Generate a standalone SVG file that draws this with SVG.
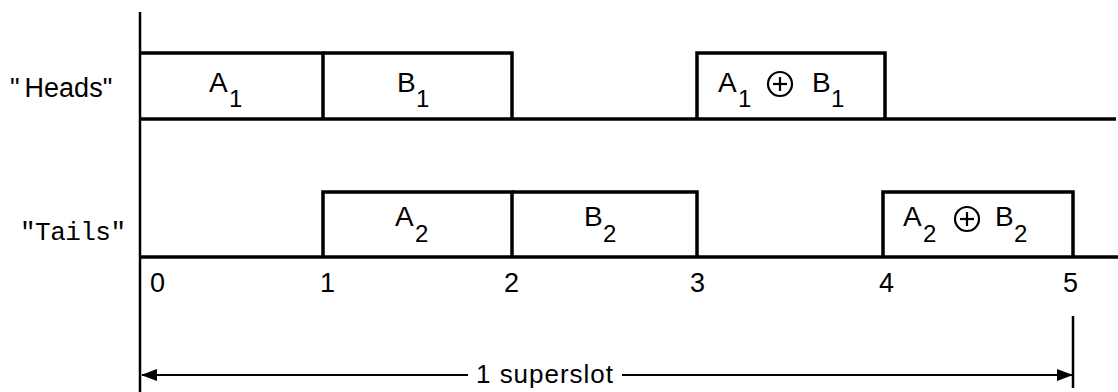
<svg xmlns="http://www.w3.org/2000/svg" width="1118" height="392" viewBox="0 0 1118 392">
<style>
.ln{stroke:#000;stroke-width:3.5;fill:none;stroke-linejoin:miter}
.ax{stroke:#000;stroke-width:2.5;fill:none}
.ar{stroke:#000;stroke-width:2;fill:none}
.t{font-family:"Liberation Sans",Arial,sans-serif;fill:#000}
.lab{font-size:28px}
.sub{font-size:24px}
.num{font-size:27px}
.mono{font-family:"Liberation Mono","Courier New",monospace;fill:#000;font-size:26px}
.xor{stroke:#000;stroke-width:2.2;fill:none}
</style>
<defs>
<marker id="ah" markerWidth="16" markerHeight="12" refX="15" refY="6" orient="auto" markerUnits="userSpaceOnUse">
<path d="M0,0 L16,6 L0,12 Z" fill="#000"/>
</marker>
</defs>
<g id="connectors">
<line class="ax" x1="140" y1="12" x2="140" y2="392"/>
<line class="ln" x1="140" y1="119" x2="1116" y2="119"/>
<line class="ln" x1="140" y1="257" x2="1118" y2="257"/>
<line class="ax" x1="1073" y1="316" x2="1073" y2="388"/>
<line class="ar" x1="468" y1="375" x2="142" y2="375" marker-end="url(#ah)"/>
<line class="ar" x1="622" y1="375" x2="1072" y2="375" marker-end="url(#ah)"/>
</g>
<g id="heads-label"><text class="t" x="10" y="97" font-size="27">"<tspan dx="5">Heads"</tspan></text></g>
<g id="tails-label"><text class="mono" x="20" y="240" textLength="106">"Tails"</text></g>
<g id="A1">
<polyline class="ln" points="140,53 323,53 323,119"/>
<text class="t lab" x="209" y="92">A</text><text class="t sub" x="229" y="107">1</text>
</g>
<g id="B1">
<polyline class="ln" points="323,53 512,53 512,119"/>
<text class="t lab" x="397" y="92">B</text><text class="t sub" x="416" y="107">1</text>
</g>
<g id="A1xB1">
<polyline class="ln" points="697,119 697,53 885,53 885,119"/>
<text class="t lab" x="718" y="92">A</text><text class="t sub" x="738" y="107">1</text>
<circle class="xor" cx="780" cy="84" r="12"/>
<line class="xor" x1="773" y1="84" x2="787" y2="84"/><line class="xor" x1="780" y1="77" x2="780" y2="91"/>
<text class="t lab" x="812" y="92">B</text><text class="t sub" x="831" y="107">1</text>
</g>
<g id="A2">
<polyline class="ln" points="323,257 323,192 512,192 512,257"/>
<text class="t lab" x="395" y="226">A</text><text class="t sub" x="415" y="242">2</text>
</g>
<g id="B2">
<polyline class="ln" points="512,192 697,192 697,257"/>
<text class="t lab" x="584" y="226">B</text><text class="t sub" x="603" y="242">2</text>
</g>
<g id="A2xB2">
<polyline class="ln" points="883,257 883,192 1073,192 1073,257"/>
<text class="t lab" x="903" y="226">A</text><text class="t sub" x="923" y="242">2</text>
<circle class="xor" cx="967" cy="219" r="12"/>
<line class="xor" x1="960" y1="219" x2="974" y2="219"/><line class="xor" x1="967" y1="212" x2="967" y2="226"/>
<text class="t lab" x="995" y="226">B</text><text class="t sub" x="1014" y="242">2</text>
</g>
<g id="ticks">
<text class="t num" x="150" y="292">0</text>
<text class="t num" x="320" y="292">1</text>
<text class="t num" x="504" y="292">2</text>
<text class="t num" x="690" y="292">3</text>
<text class="t num" x="879" y="292">4</text>
<text class="t num" x="1063" y="292">5</text>
</g>
<g id="superslot"><text class="t" x="476" y="383" font-size="26" textLength="137">1 superslot</text></g>
</svg>
